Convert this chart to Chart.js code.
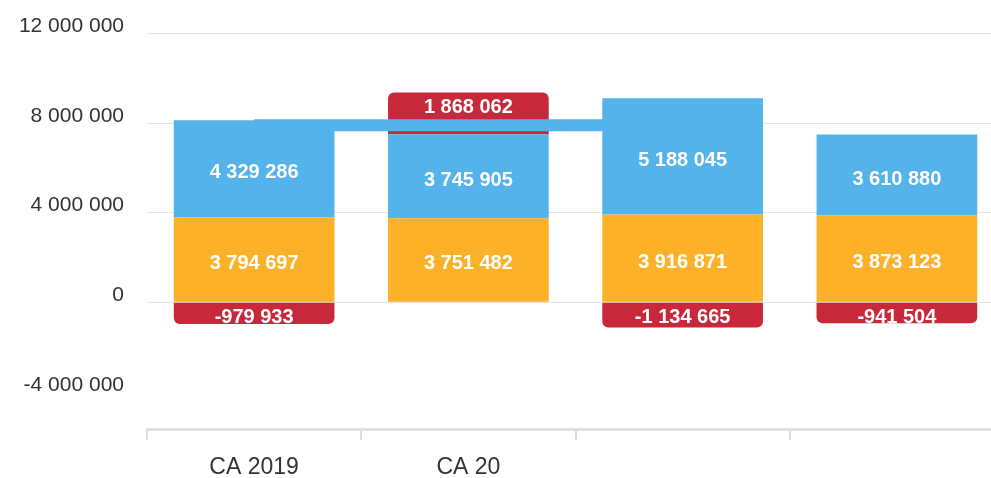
<!DOCTYPE html>
<html>
<head>
<meta charset="utf-8">
<script src="https://cdn.jsdelivr.net/npm/chart.js@4"></script>
<style>
  html, body { margin: 0; padding: 0; background: #fff; overflow: hidden; }
  #wrap { width: 1004px; height: 478px; }
</style>
</head>
<body>
<div id="wrap"><canvas id="c" width="1004" height="478"></canvas></div>
<script>
// ---- data ----
const categories = ['CA 2019', 'CA 20', '', ''];
const orangeValues = [3794697, 3751482, 3916871, 3873123];
const blueValues = [4329286, 3745905, 5188045, 3610880];
const redValues = [-979933, 1868062, -1134665, -941504];
const connectorLevel = [7900000, 7900000, 7900000, null];
const yTickValues = [-4000000, 0, 4000000, 8000000, 12000000];
const yMin = -5665000;
const yMax = 12000000;

const BLUE = '#53B3EA', ORANGE = '#FDB128', RED = '#C8293A';
const FONT = '"Liberation Sans", Arial, Helvetica, sans-serif';

function fmt(v) {
  const s = String(Math.abs(Math.round(v))).replace(/\B(?=(\d{3})+(?!\d))/g, ' ');
  return (v < 0 ? '-' : '') + s;
}

const barLabels = {
  id: 'barLabels',
  afterDatasetsDraw(chart) {
    const ctx = chart.ctx;
    chart.data.datasets.forEach((ds, i) => {
      if (ds.type !== 'bar') return;
      const meta = chart.getDatasetMeta(i);
      meta.data.forEach((bar, j) => {
        const v = ds.data[j];
        if (v == null) return;
        const p = bar.getProps(['x', 'y', 'base', 'width'], true);
        const top = Math.min(p.y, p.base), bottom = Math.max(p.y, p.base);
        const h = bottom - top;
        const ty = h < 50 ? top + 15 : (top + bottom) / 2 + 4;
        ctx.save();
        ctx.beginPath();
        ctx.rect(p.x - p.width / 2, top, p.width, h);
        ctx.clip();
        ctx.font = 'bold 20px ' + FONT;
        ctx.fillStyle = '#ffffff';
        ctx.textAlign = 'center';
        ctx.textBaseline = 'middle';
        ctx.fillText(fmt(v), p.x, ty);
        ctx.restore();
      });
    });
  }
};

new Chart(document.getElementById('c'), {
  data: {
    labels: categories,
    datasets: [
      { type: 'bar', label: 'orange', data: orangeValues, backgroundColor: ORANGE, stack: 's', order: 1 },
      { type: 'bar', label: 'blue', data: blueValues, backgroundColor: BLUE, stack: 's', order: 1 },
      { type: 'bar', label: 'red', data: redValues, backgroundColor: RED, stack: 's', order: 1,
        borderRadius: 6, borderSkipped: 'start' },
      { type: 'line', label: 'connector', data: connectorLevel, borderColor: BLUE, borderWidth: 12,
        borderCapStyle: 'butt', pointRadius: 0, pointHoverRadius: 0, fill: false, tension: 0,
        stack: 'connector', order: 0 }
    ]
  },
  options: {
    responsive: false,
    animation: false,
    devicePixelRatio: 1,
    layout: { padding: { left: 19, top: 33, right: 0, bottom: 0 } },
    datasets: { bar: { categoryPercentage: 1, barPercentage: 0.75 } },
    plugins: { legend: { display: false }, tooltip: { enabled: false } },
    scales: {
      x: {
        stacked: true,
        offset: true,
        afterFit: (scale) => { scale.height = 49; },
        grid: { offset: true, drawOnChartArea: false, drawTicks: true, tickLength: 11, color: '#dcdcdc', lineWidth: 2 },
        border: { display: true, color: '#e0e0e0', width: 3 },
        ticks: { font: { family: FONT, size: 23 }, color: '#333333', padding: 14, maxRotation: 0, autoSkip: false }
      },
      y: {
        stacked: true,
        min: yMin,
        max: yMax,
        afterFit: (scale) => { scale.width = 128; },
        afterBuildTicks: (scale) => { scale.ticks = yTickValues.map(v => ({ value: v })); },
        grid: {
          drawTicks: false,
          color: (c) => (c.tick && c.tick.value === -4000000) ? 'rgba(0,0,0,0)' : '#e3e3e3',
          lineWidth: 1
        },
        border: { display: false },
        ticks: {
          font: { family: FONT, size: 21, lineHeight: 1 }, color: '#333333', padding: 23, labelOffset: -7,
          callback: (v) => fmt(v)
        }
      }
    }
  },
  plugins: [barLabels]
});
</script>
</body>
</html>
